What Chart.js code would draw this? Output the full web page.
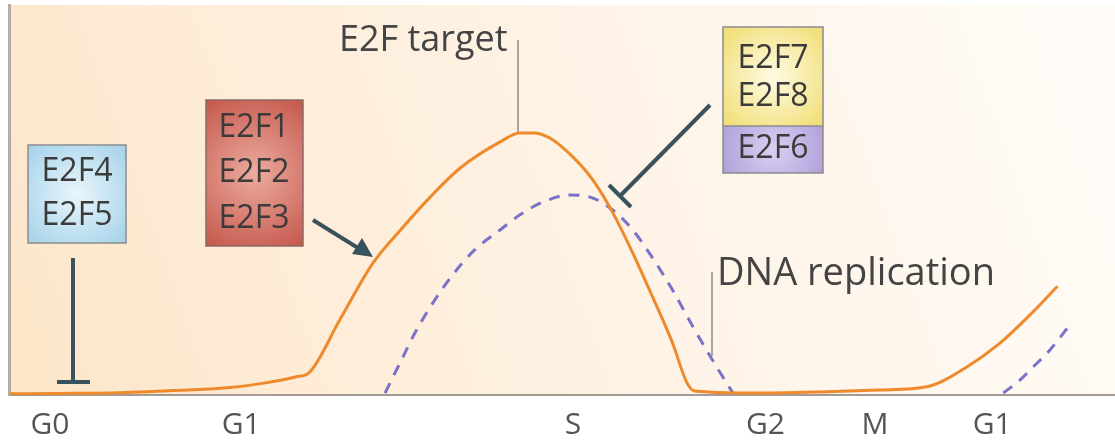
<!DOCTYPE html>
<html>
<head>
<meta charset="utf-8">
<script src="https://cdn.jsdelivr.net/npm/chart.js@4.4.1/dist/chart.umd.min.js"></script>
<style>
  html, body { margin: 0; padding: 0; background: #fff; }
  .wrap { width: 1115px; height: 441px; position: relative; }
</style>
</head>
<body>
<div class="wrap"><canvas id="cycle"></canvas></div>
<script>
// cell cycle phases on the time axis
const phaseTicks = [3.7, 21.0, 51.0, 68.4, 78.3, 88.9];
const phaseLabels = ['G0', 'G1', 'S', 'G2', 'M', 'G1'];

// E2F target expression (solid orange)
const targetTime  = [0.1, 4.6, 10.0, 15.5, 20.0, 23.6, 25.9, 27.2, 29.9, 32.9, 35.4, 38.1, 40.8, 44.4, 46.2, 47.4, 48.9, 51.0, 52.8, 54.6, 56.4, 58.2, 60.0, 61.3, 62.0, 67.0, 73.3, 78.8, 83.0, 86.6, 89.6, 92.3, 94.8];
const targetLevel = [0.3, 0.4, 0.6, 1.2, 1.9, 3.3, 4.6, 5.9, 19.2, 33.8, 42.3, 50.8, 58.2, 64.9, 67.2, 67.2, 65.9, 61.0, 55.1, 46.7, 36.4, 25.1, 13.3, 3.1, 1.0, 0.5, 0.8, 1.3, 2.1, 7.2, 13.3, 20.5, 27.9];

// DNA replication (dashed), null = gap between the two cycles
const replTime  = [34.0, 35.4, 36.7, 38.1, 39.9, 42.1, 44.4, 46.2, 48.3, 50.7, 52.8, 54.6, 56.4, 58.2, 60.0, 61.9, 63.7, 65.5, 75.0, 89.9, 91.4, 92.6, 94.1, 95.9];
const replLevel = [0.5, 8.5, 15.9, 22.6, 30.0, 37.2, 42.3, 46.2, 49.5, 51.3, 50.5, 47.4, 42.3, 35.1, 26.9, 17.2, 8.5, 0.3, null, 0.5, 3.8, 7.2, 11.5, 17.9];

const FONT = '"Open Sans", "DejaVu Sans", sans-serif';
const INK = '#38525e';

function pts(xs, ys){
    return xs.map((x, i) => ({x: x, y: ys[i]}));
}

// background panel
const panelBg = {
    id: 'panelBg',
    beforeDraw(chart){
        const {ctx, chartArea: a} = chart;
        ctx.save();
        ctx.fillStyle = '#ffffff';
        ctx.fillRect(0, 0, chart.width, chart.height);
        const g = ctx.createLinearGradient(a.left, a.bottom, a.right, a.top);
        g.addColorStop(0, '#fde6c9');
        g.addColorStop(0.5, '#fef2e4');
        g.addColorStop(1, '#fffcf8');
        ctx.fillStyle = g;
        ctx.fillRect(a.left, a.top, a.right - a.left, a.bottom - a.top);
        ctx.restore();
    }
};

function box(ctx, x, y, w, h, base, light){
    const g = ctx.createRadialGradient(x + w/2, y + h/2, 0, x + w/2, y + h/2, Math.max(w, h) * 0.65);
    g.addColorStop(0, light);
    g.addColorStop(1, base);
    ctx.fillStyle = g;
    ctx.fillRect(x, y, w, h);
}

function labels(ctx, cx, ys, texts){
    ctx.fillStyle = '#3b3b3b';
    ctx.font = '32px ' + FONT;
    ctx.textAlign = 'center';
    ctx.textBaseline = 'middle';
    texts.forEach((t, i) => ctx.fillText(t, cx, ys[i]));
}

function line(ctx, x1, y1, x2, y2){
    ctx.beginPath();
    ctx.moveTo(x1, y1);
    ctx.lineTo(x2, y2);
    ctx.stroke();
}

// boxes, arrows and callouts
const notes = {
    id: 'notes',
    afterDatasetsDraw(chart){
        const ctx = chart.ctx;
        ctx.save();

        // E2F4 / E2F5
        box(ctx, 28, 145, 98, 98, '#a8d4ea', '#e9f6fc');
        ctx.strokeStyle = '#8c8c8c'; ctx.lineWidth = 1.5;
        ctx.strokeRect(28, 145, 98, 98);
        labels(ctx, 77, [172, 216], ['E2F4', 'E2F5']);

        // E2F1-3
        box(ctx, 206, 100, 97, 146, '#c24f45', '#ecab9e');
        ctx.strokeStyle = '#8c6a66';
        ctx.strokeRect(206, 100, 97, 146);
        labels(ctx, 254, [128, 173, 219], ['E2F1', 'E2F2', 'E2F3']);

        // E2F7 / E2F8 / E2F6
        box(ctx, 723, 27, 100, 99, '#f1df78', '#fffbe4');
        box(ctx, 723, 126, 100, 47, '#a898d5', '#d9d0f2');
        ctx.strokeStyle = '#8c8c8c';
        ctx.strokeRect(723, 27, 100, 146);
        line(ctx, 723, 126, 823, 126);
        labels(ctx, 773, [59, 97, 149], ['E2F7', 'E2F8', 'E2F6']);

        // inhibition / activation marks
        ctx.strokeStyle = INK; ctx.fillStyle = INK;
        ctx.lineWidth = 4; ctx.lineCap = 'butt';
        line(ctx, 73, 258, 73, 382);
        line(ctx, 57, 382, 90, 382);

        line(ctx, 313, 220, 358, 248);
        ctx.beginPath();
        ctx.moveTo(373, 257);
        ctx.lineTo(352, 254);
        ctx.lineTo(362, 238);
        ctx.closePath();
        ctx.fill();

        line(ctx, 710, 105, 620, 196);
        line(ctx, 609, 185, 631, 207);

        // leader lines and callout text
        ctx.strokeStyle = '#8f8a84'; ctx.lineWidth = 1.5;
        line(ctx, 518, 40, 518, 132);
        line(ctx, 712, 272, 712, 356);
        ctx.fillStyle = '#444';
        ctx.textAlign = 'left';
        ctx.textBaseline = 'alphabetic';
        ctx.font = '36px ' + FONT;
        ctx.fillText('E2F target', 339, 51);
        ctx.font = '38px ' + FONT;
        ctx.fillText('DNA replication', 717, 285);

        ctx.restore();
    }
};

new Chart(document.getElementById('cycle'), {
    type: 'line',
    data: {
        datasets: [{
            label: 'E2F target',
            data: pts(targetTime, targetLevel),
            borderColor: '#ee8a2b',
            borderWidth: 3,
            pointRadius: 0,
            cubicInterpolationMode: 'monotone',
            fill: false
        }, {
            label: 'DNA replication',
            data: pts(replTime, replLevel),
            borderColor: '#7a72c8',
            borderWidth: 3,
            borderDash: [11, 9],
            pointRadius: 0,
            cubicInterpolationMode: 'monotone',
            spanGaps: false,
            fill: false
        }]
    },
    options: {
        responsive: true,
        maintainAspectRatio: false,
        animation: false,
        layout: { padding: { top: 5, left: 0, right: 0, bottom: 0 } },
        plugins: { legend: { display: false }, tooltip: { enabled: false } },
        scales: {
            x: {
                type: 'linear',
                min: 0,
                max: 100,
                grid: { display: false, drawTicks: false },
                border: { display: true, color: '#a19b94', width: 2 },
                afterBuildTicks: s => { s.ticks = phaseTicks.map(v => ({value: v})); },
                afterFit: s => { s.height = 46; },
                ticks: {
                    autoSkip: false,
                    maxRotation: 0,
                    padding: 12,
                    color: '#555',
                    font: { family: FONT, size: 30 },
                    callback: (v, i) => phaseLabels[i]
                }
            },
            y: {
                min: 0,
                max: 100,
                grid: { display: false, drawTicks: false },
                border: { display: true, color: '#b3ada6', width: 3 },
                ticks: { display: false },
                afterFit: s => { s.width = 9; }
            }
        }
    },
    plugins: [panelBg, notes]
});
</script>
</body>
</html>
